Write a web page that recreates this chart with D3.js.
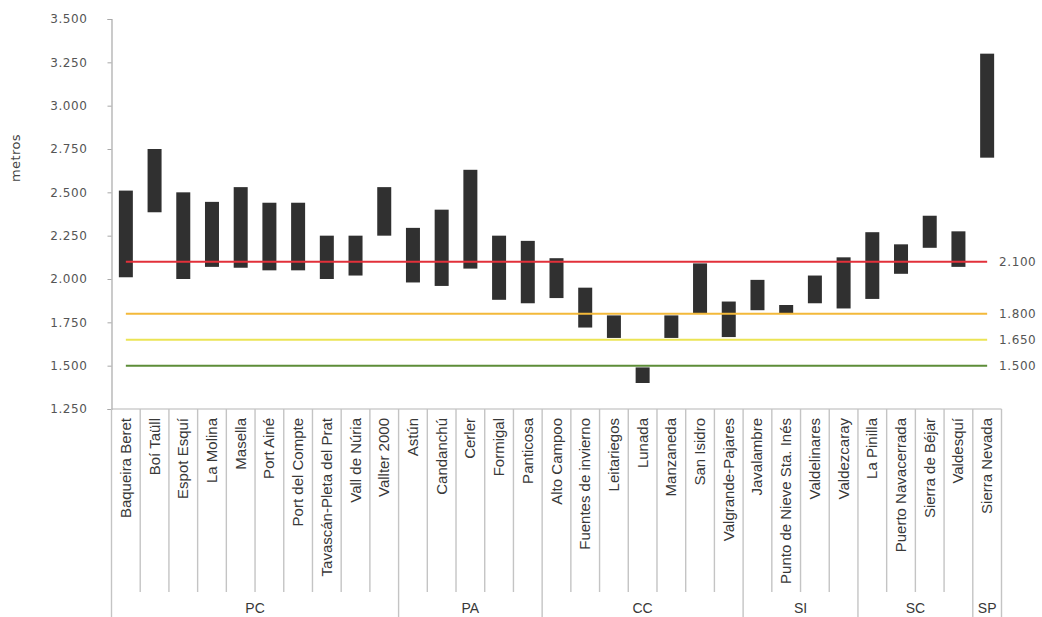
<!DOCTYPE html>
<html>
<head>
<meta charset="utf-8">
<script src="https://cdn.jsdelivr.net/npm/d3@7"></script>
<style>
  html, body { margin: 0; padding: 0; background: #fff; }
  svg { display: block; }
</style>
</head>
<body>
<svg id="chart" width="1042" height="617"></svg>
<script>
// ---------- data ----------
const categories = [
  "Baqueira Beret", "Boí Taüll", "Espot Esquí", "La Molina", "Masella", "Port Ainé",
  "Port del Compte", "Tavascán-Pleta del Prat", "Vall de Núria", "Vallter 2000",
  "Astún", "Candanchú", "Cerler", "Formigal", "Panticosa",
  "Alto Campoo", "Fuentes de invierno", "Leitariegos", "Lunada", "Manzaneda", "San Isidro", "Valgrande-Pajares",
  "Javalambre", "Punto de Nieve Sta. Inés", "Valdelinares", "Valdezcaray",
  "La Pinilla", "Puerto Navacerrada", "Sierra de Béjar", "Valdesquí",
  "Sierra Nevada"
];
const minAltitude = [
  2010, 2385, 2000, 2070, 2065, 2050, 2050, 2000, 2020, 2250,
  1980, 1960, 2060, 1880, 1860,
  1890, 1720, 1660, 1400, 1660, 1800, 1665,
  1820, 1800, 1860, 1830,
  1885, 2030, 2180, 2070,
  2700
];
const maxAltitude = [
  2510, 2750, 2500, 2445, 2530, 2440, 2440, 2250, 2250, 2530,
  2295, 2400, 2630, 2250, 2220,
  2120, 1950, 1790, 1490, 1790, 2090, 1870,
  1995, 1850, 2020, 2125,
  2270, 2200, 2365, 2275,
  3300
];
const groupNames = ["PC", "PA", "CC", "SI", "SC", "SP"];
const groupSizes = [10, 5, 7, 4, 4, 1];
const refValues = [2100, 1800, 1650, 1500];
const refLabels = ["2.100", "1.800", "1.650", "1.500"];
const refColors = ["#e2303a", "#f3b93a", "#ebe455", "#5d8d38"];
const yTicks = [1250, 1500, 1750, 2000, 2250, 2500, 2750, 3000, 3250, 3500];
const yTitle = "metros";

// ---------- layout ----------
const svg = d3.select("#chart");
const mLeft = 111.5, mRight = 1001.5, mTop = 19, mBottom = 409;

const x = d3.scaleBand().domain(categories).range([mLeft, mRight]).padding(0);
const y = d3.scaleLinear().domain([1250, 3500]).range([mBottom, mTop]);
const fmt = d3.formatLocale({ thousands: ".", grouping: [3], decimal: ",", currency: ["", ""] }).format(",d");

const numFont = "'DejaVu Sans', sans-serif";
const catFont = "'Liberation Sans', Arial, sans-serif";

// y axis
const yAxis = svg.append("g")
  .attr("transform", `translate(${mLeft},0)`)
  .call(d3.axisLeft(y).tickValues(yTicks).tickSize(4).tickPadding(20).tickFormat(fmt));
yAxis.select(".domain").attr("stroke", "#a8a8a8").attr("stroke-width", 1.2);
yAxis.selectAll(".tick line").attr("stroke", "#a8a8a8");
yAxis.selectAll(".tick text")
  .attr("fill", "#555")
  .style("font-family", numFont)
  .style("font-size", "12px")
  .style("letter-spacing", "0.6px");

// y title
svg.append("text")
  .attr("transform", `translate(20,158) rotate(-90)`)
  .attr("text-anchor", "middle")
  .attr("fill", "#444")
  .style("font-family", numFont)
  .style("font-size", "13px")
  .style("letter-spacing", "0.4px")
  .text(yTitle);

// x baseline
svg.append("line")
  .attr("x1", mLeft).attr("x2", mRight)
  .attr("y1", mBottom).attr("y2", mBottom)
  .attr("stroke", "#b5b5b5").attr("stroke-width", 1.2);

// group boundaries
const groupStart = [];
let acc = 0;
groupSizes.forEach(s => { groupStart.push(acc); acc += s; });
const boundarySet = new Set(groupStart.concat([categories.length]));

// dividers
const step = x.step();
d3.range(categories.length + 1).forEach(i => {
  const xx = mLeft + i * step;
  const isGroup = boundarySet.has(i);
  svg.append("line")
    .attr("x1", xx).attr("x2", xx)
    .attr("y1", mBottom).attr("y2", isGroup ? 617 : 592)
    .attr("stroke", "#c4c4c4").attr("stroke-width", 1.4);
});

// category labels
svg.append("g").selectAll("text")
  .data(categories)
  .join("text")
  .attr("transform", d => `translate(${x(d) + x.bandwidth() / 2 + 5},418) rotate(-90)`)
  .attr("text-anchor", "end")
  .attr("fill", "#383838")
  .style("font-family", catFont)
  .style("font-size", "15px")
  .text(d => d);

// group labels
svg.append("g").selectAll("text")
  .data(groupNames)
  .join("text")
  .attr("x", (d, i) => mLeft + (groupStart[i] + groupSizes[i] / 2) * step)
  .attr("y", 613)
  .attr("text-anchor", "middle")
  .attr("fill", "#383838")
  .style("font-family", catFont)
  .style("font-size", "14px")
  .text(d => d);

// bars
const barW = 14;
svg.append("g").selectAll("rect")
  .data(categories)
  .join("rect")
  .attr("x", d => x(d) + x.bandwidth() / 2 - barW / 2)
  .attr("width", barW)
  .attr("y", (d, i) => y(maxAltitude[i]))
  .attr("height", (d, i) => y(minAltitude[i]) - y(maxAltitude[i]))
  .attr("fill", "#303030");

// reference lines
const xFirst = x(categories[0]) + x.bandwidth() / 2;
const xLast = x(categories[categories.length - 1]) + x.bandwidth() / 2;
const refs = svg.append("g");
refValues.forEach((v, i) => {
  refs.append("line")
    .attr("x1", xFirst).attr("x2", xLast)
    .attr("y1", y(v)).attr("y2", y(v))
    .attr("stroke", refColors[i]).attr("stroke-width", 2);
  refs.append("text")
    .attr("x", 999)
    .attr("y", y(v))
    .attr("dy", "0.35em")
    .attr("fill", "#555")
    .style("font-family", numFont)
    .style("font-size", "12px")
    .style("letter-spacing", "0.6px")
    .text(refLabels[i]);
});
</script>
</body>
</html>
